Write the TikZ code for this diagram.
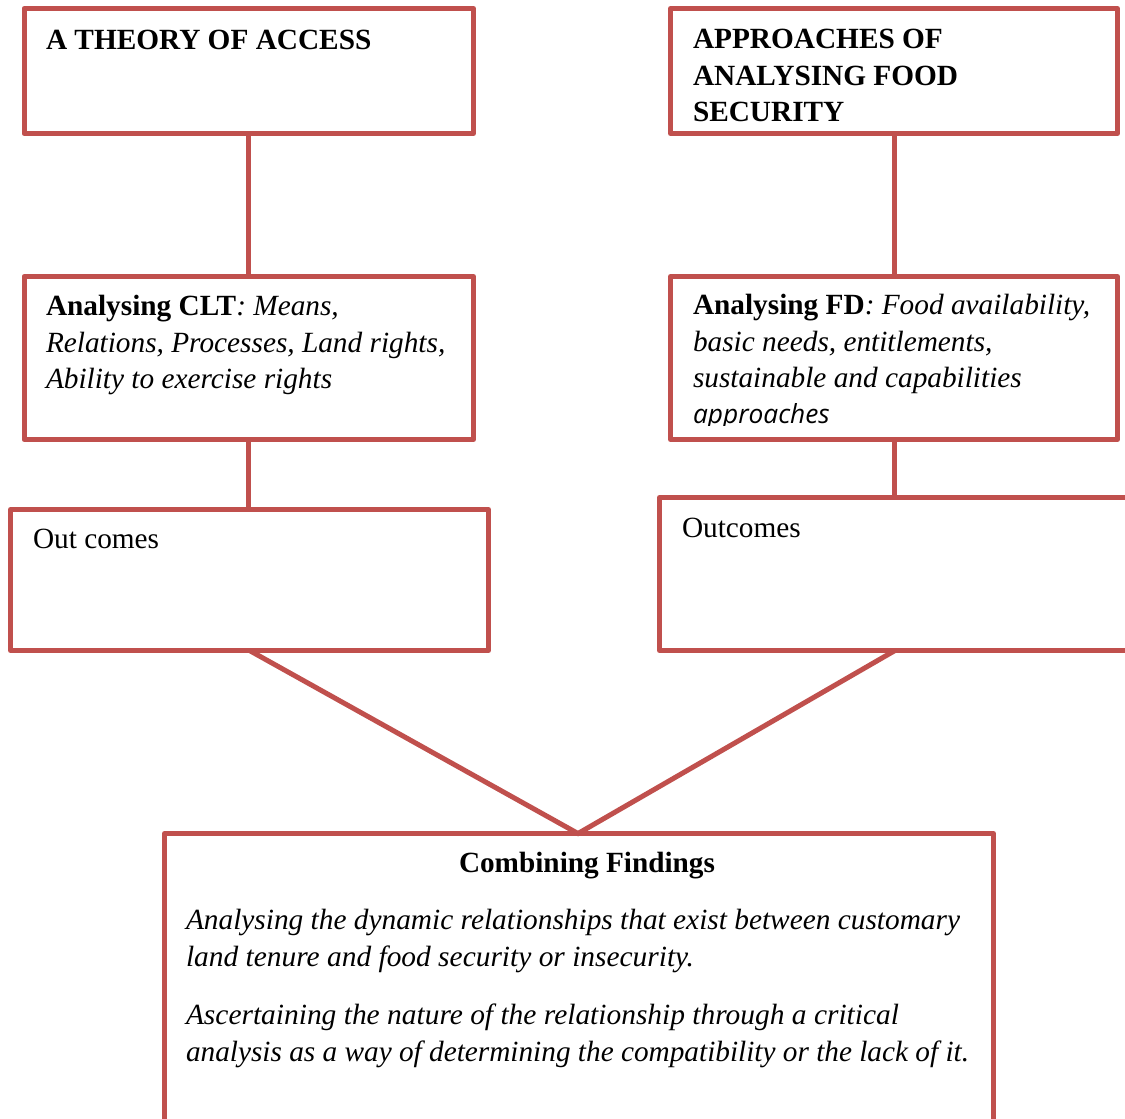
\documentclass[tikz,border=0pt]{standalone}
\usepackage{fontspec}
\setmainfont{Liberation Serif}
\newfontfamily\apfont{Open Sans}
\usepackage{graphicx}
\definecolor{boxred}{HTML}{C0504D}
\begin{document}
\begin{tikzpicture}[x=1pt,y=-1pt,
  box/.style={draw=boxred, line width=5pt, line join=round, rectangle, outer sep=0pt, inner sep=0pt, anchor=north west, fill=white},
  link/.style={draw=boxred, line width=5pt, line cap=butt},
  txt/.style={inner sep=0pt, outer sep=0pt, anchor=base west, font=\fontsize{29.3}{36.5}\selectfont, align=left},
]
\useasboundingbox (0,0) rectangle (1125,1119);
\clip (0,0) rectangle (1125,1119);
% boxes
\node[box, minimum width=449.5pt, minimum height=125pt] (A) at (24,8.5) {};
\node[box, minimum width=447pt, minimum height=125pt] (B) at (670.5,8.5) {};
\node[box, minimum width=449.5pt, minimum height=163pt] (C) at (24,276.5) {};
\node[box, minimum width=447pt, minimum height=163pt] (D) at (670.5,276.5) {};
\node[box, minimum width=478pt, minimum height=141pt] (E) at (10.5,509.5) {};
\node[box, minimum width=480pt, minimum height=153pt] (F) at (659.5,497.5) {};
\node[box, minimum width=829pt, minimum height=300pt] (G) at (164.5,833.5) {};
% connectors
\draw[link] (A.south) -- (C.north);
\draw[link] (B.south) -- (D.north);
\draw[link] (C.south) -- (C.south |- E.north);
\draw[link] (D.south) -- (D.south |- F.north);
\coordinate (Fbot) at (895,650.5);
\coordinate (apex) at (578,833.5);
\draw[link, line join=miter] (E.south) -- (apex) -- (Fbot);
% texts (multi-line nodes: base anchor = last line's baseline)
\node[txt] (tA) at (46,49) {\bfseries A THEORY OF ACCESS};
\node[txt] (tB) at (693,121.5) {\bfseries APPROACHES OF\\\bfseries ANALYSING FOOD\\\bfseries SECURITY};
\node[txt] (tC) at (46,388.5) {\textbf{Analysing CLT}\textit{: Means,}\\\textit{Relations, Processes, Land rights,}\\\textit{Ability to exercise rights}};
\node[txt] (tD) at (693,387.5) {\textbf{Analysing FD}\textit{: Food availability,}\\\textit{basic needs, entitlements,}\\\textit{sustainable and capabilities}};
\begin{scope}
\clip (680,395) rectangle (1100,425.5);
\node[txt, font=\apfont\itshape\fontsize{26.3}{30}\selectfont] (tD2) at (693,423.5) {approaches};
\end{scope}
\node[txt] (tE) at (33,548) {Out comes};
\node[txt] (tF) at (682,537) {Outcomes};
\node[txt, anchor=base] (tG) at (587,872) {\resizebox{256pt}{\height}{\bfseries Combining Findings}};
\node[txt] (tG1) at (186,966) {\resizebox{774pt}{\height}{\itshape Analysing the dynamic relationships that exist between customary}\\[0.5pt]\resizebox{508pt}{\height}{\itshape land tenure and food security or insecurity.}};
\node[txt] (tG2) at (186,1061) {\resizebox{713pt}{\height}{\itshape Ascertaining the nature of the relationship through a critical}\\[0.5pt]\resizebox{783pt}{\height}{\itshape analysis as a way of determining the compatibility or the lack of it.}};
\end{tikzpicture}
\end{document}
